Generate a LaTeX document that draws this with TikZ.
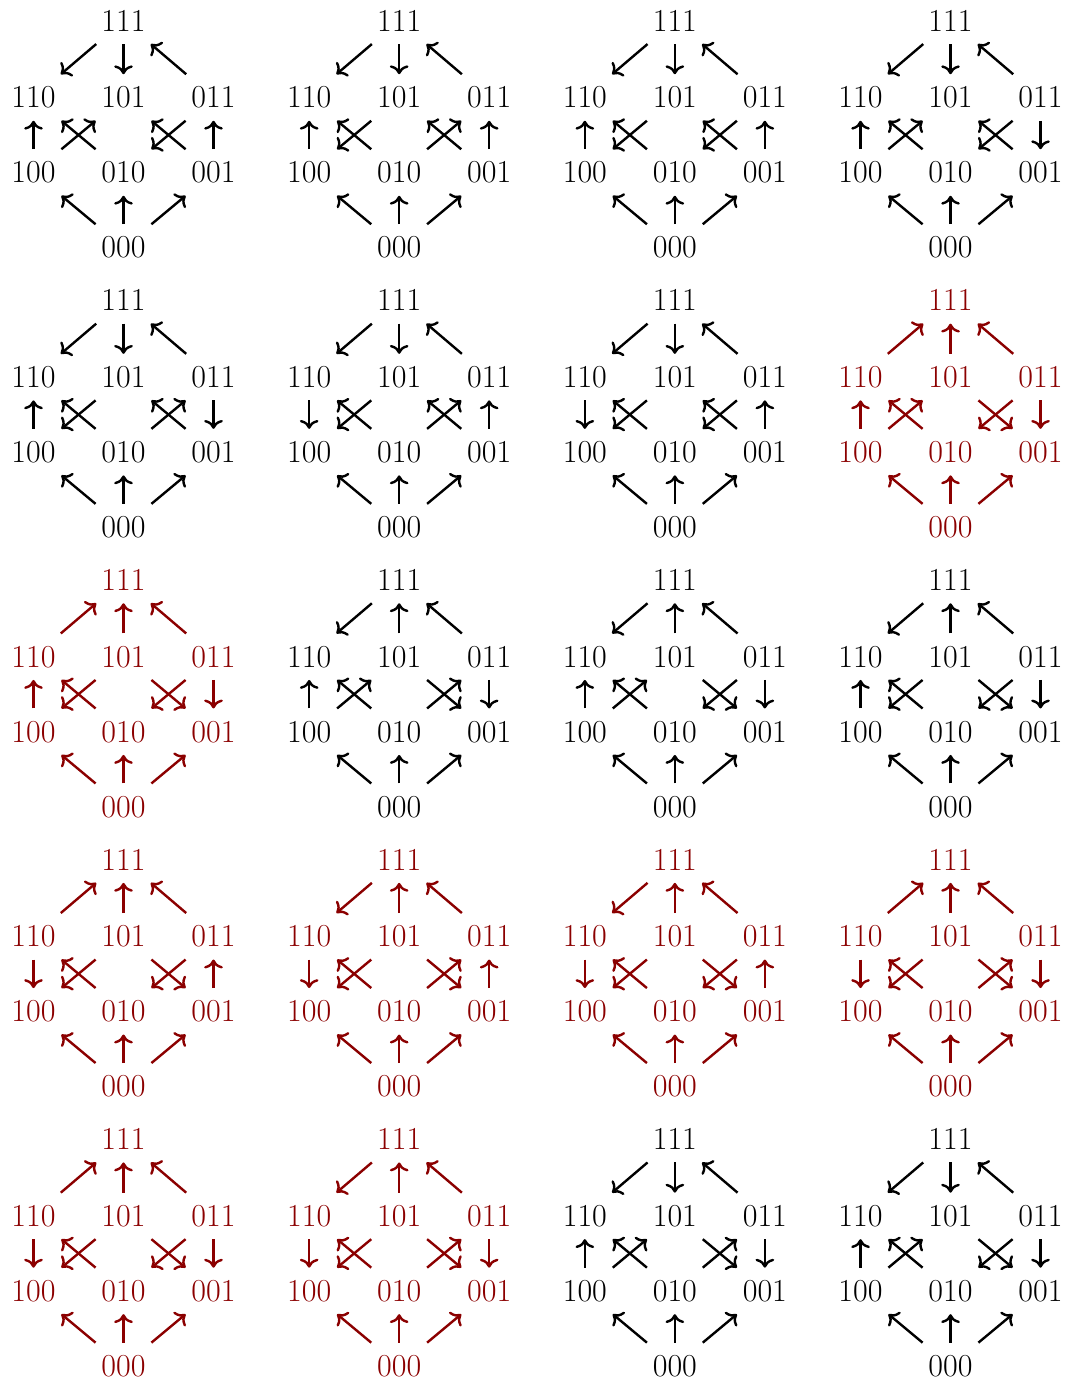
\documentclass[tikz,border=0pt]{standalone}
\usetikzlibrary{arrows.meta}
\definecolor{dred}{RGB}{139,0,0}
\tikzset{
  lab/.style={inner sep=0pt, minimum width=44pt, minimum height=34.5pt,
              font=\fontsize{24}{28}\selectfont},
  arr/.style={line width=1.8pt, -{To[scale=1.2]}},
}
\newcommand\cubeE[3]{%
  \if#3u\draw[arr] (\pn-#2) -- (\pn-#1);\else\draw[arr] (\pn-#1) -- (\pn-#2);\fi}
\newcommand\cubeEdges[9]{%
  \cubeE{111}{110}{#1}\cubeE{111}{101}{#2}\cubeE{111}{011}{#3}%
  \cubeE{110}{100}{#4}\cubeE{110}{010}{#5}\cubeE{101}{100}{#6}%
  \cubeE{101}{001}{#7}\cubeE{011}{010}{#8}\cubeE{011}{001}{#9}%
  \cubeE{100}{000}{u}\cubeE{010}{000}{u}\cubeE{001}{000}{u}}
\newcommand\cube[5]{%
  \def\pn{#1}%
  \begin{scope}[shift={({123.5+275.67*#2},{20.8+279.6*#3})}, color=#4]
    \node[lab] (#1-111) at (0,0) {111};
    \node[lab] (#1-110) at (-90,76.7) {110};
    \node[lab] (#1-101) at (0,76.7) {101};
    \node[lab] (#1-011) at (90,76.7) {011};
    \node[lab] (#1-100) at (-90,151.7) {100};
    \node[lab] (#1-010) at (0,151.7) {010};
    \node[lab] (#1-001) at (90,151.7) {001};
    \node[lab] (#1-000) at (0,226.7) {000};
    \cubeEdges#5
  \end{scope}}
\begin{document}
\begin{tikzpicture}[x=0.75pt,y=-0.75pt]
\useasboundingbox (0,0) rectangle (1070,1381);
\cube{pa}{0}{0}{black}{dduuuuudu}
\cube{pb}{1}{0}{black}{dduuuduuu}
\cube{pc}{2}{0}{black}{dduuududu}
\cube{pd}{3}{0}{black}{dduuuuudd}
\cube{pe}{0}{1}{black}{dduuuduud}
\cube{pf}{1}{1}{black}{ddududuuu}
\cube{pg}{2}{1}{black}{ddudududu}
\cube{ph}{3}{1}{dred}{uuuuuuddd}
\cube{pi}{0}{2}{dred}{uuuuudddd}
\cube{pj}{1}{2}{black}{duuuuudud}
\cube{pk}{2}{2}{black}{duuuuuddd}
\cube{pl}{3}{2}{black}{duuuudddd}
\cube{pm}{0}{3}{dred}{uuududddu}
\cube{pn}{1}{3}{dred}{duududduu}
\cube{po}{2}{3}{dred}{duududddu}
\cube{pp}{3}{3}{dred}{uuududdud}
\cube{pq}{0}{4}{dred}{uuududddd}
\cube{pr}{1}{4}{dred}{duududdud}
\cube{ps}{2}{4}{black}{dduuuudud}
\cube{pt}{3}{4}{black}{dduuuuddd}
\end{tikzpicture}
\end{document}
